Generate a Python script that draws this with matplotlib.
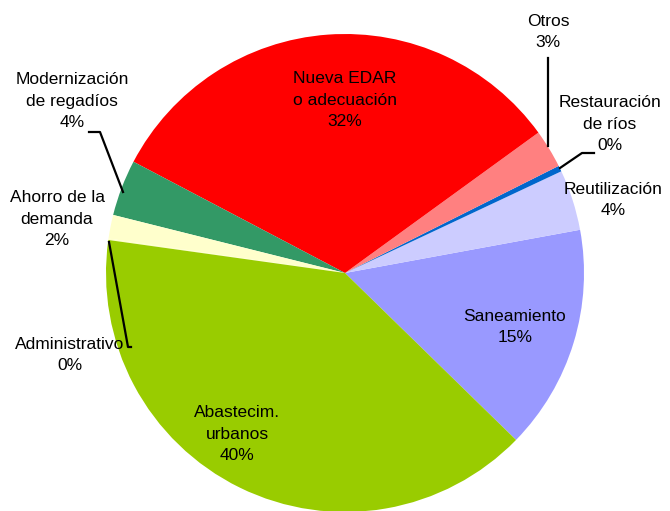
import matplotlib.pyplot as plt

plt.rcParams['font.family'] = ['Liberation Sans', 'DejaVu Sans']

# data (share of total, %)
categorias = ['Saneamiento', 'Reutilización', 'Restauración\nde ríos', 'Otros',
              'Nueva EDAR\no adecuación', 'Modernización\nde regadíos',
              'Ahorro de la\ndemanda', 'Administrativo', 'Abastecim.\nurbanos']
valores = [15.2, 4.1, 0.4, 2.6, 32.3, 3.8, 1.6, 0.1, 39.9]
colores = ['#9999FF', '#CCCCFF', '#0066CC', '#FF8080', '#FF0000',
           '#339966', '#FFFFCC', '#FFFFCC', '#99CC00']

# label placement in pixel coords (x, y from top)
pos_etiquetas = [(515, 327), (613, 200), (610, 124), (548, 32), (345, 100),
                 (72, 101), (57, 219), (70, 355), (237, 434)]

W, H = 670, 511
fig = plt.figure(figsize=(W / 100, H / 100), dpi=100)
ax = fig.add_axes([0, 0, 1, 1])

cx, cy, r = 345, H - 273, 239
ax.pie(valores, colors=colores, startangle=-44.3, counterclock=True,
       center=(cx, cy), radius=r, frame=True,
       wedgeprops=dict(linewidth=0))
ax.set_xlim(0, W)
ax.set_ylim(0, H)
ax.set_aspect('equal')
ax.axis('off')

for nombre, v, (x, y) in zip(categorias, valores, pos_etiquetas):
    ax.text(x, H - y, f'{nombre}\n{round(v)}%', ha='center', va='center',
            fontsize=12.5, linespacing=1.55, color='black')

# leader lines
def linea(pts):
    xs = [p[0] for p in pts]
    ys = [H - p[1] for p in pts]
    ax.plot(xs, ys, color='black', linewidth=1.6)

linea([(548, 58), (548, 146)])
linea([(560, 168), (582, 153), (594, 153)])
linea([(89, 132), (100, 132), (123, 192)])
linea([(109, 242), (128, 347), (131, 347)])

fig.savefig('out.png', dpi=100)
